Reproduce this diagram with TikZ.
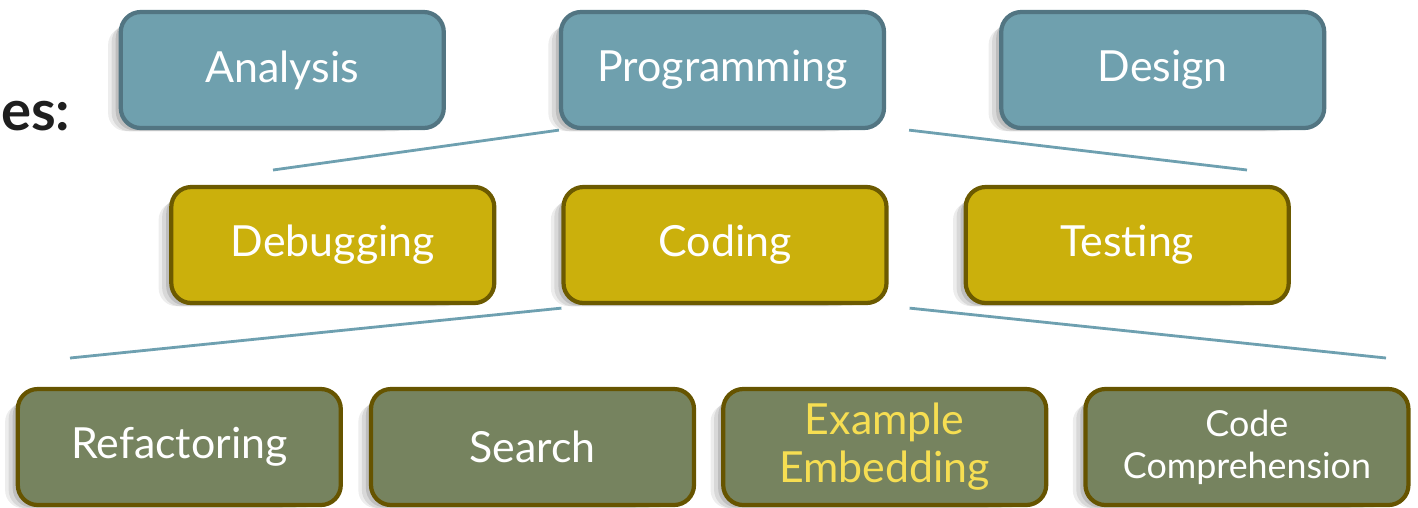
\documentclass[tikz,border=0pt]{standalone}
\usepackage{fontspec}
\setmainfont{Lato}
\usetikzlibrary{positioning,shadows}
\definecolor{tealfill}{RGB}{111,160,174}
\definecolor{tealline}{RGB}{82,117,130}
\definecolor{goldfill}{RGB}{203,176,12}
\definecolor{goldline}{RGB}{108,90,0}
\definecolor{olivefill}{RGB}{118,131,95}
\definecolor{oliveline}{RGB}{102,84,0}
\definecolor{linkline}{RGB}{110,160,176}
\definecolor{hilite}{RGB}{246,222,82}

\begin{document}
\begin{tikzpicture}[node distance=1.13cm,
  box/.style={rectangle,rounded corners=0.2cm,minimum width=3.23cm,minimum height=1.16cm,line width=1.2pt,text=white,align=center,font=\fontsize{12.2}{13.6}\selectfont,
    drop shadow={shadow scale=0.96,shadow xshift=-0.12cm,shadow yshift=-0.05cm,opacity=0.12,fill=black},
    drop shadow={shadow scale=0.93,shadow xshift=-0.22cm,shadow yshift=-0.08cm,opacity=0.09,fill=black},
    drop shadow={shadow scale=0.90,shadow xshift=-0.32cm,shadow yshift=-0.10cm,opacity=0.07,fill=black}},
  top node/.style={box,fill=tealfill,draw=tealline},
  mid node/.style={box,fill=goldfill,draw=goldline},
  low node/.style={box,fill=olivefill,draw=oliveline},
  link/.style={draw=linkline,line width=0.8pt}]
  \useasboundingbox (0,0) rectangle (14.18,-5.07);
  \node[anchor=base east,inner sep=0pt,text=black!88,font=\fontsize{16}{19}\selectfont\bfseries] (0) at (0.71,-1.30) {es:};
  % top row
  \node[top node] (2) at (7.225,-0.70) {Programming};
  \node[top node] (1) [left=of 2] {Analysis};
  \node[top node] (3) [right=of 2] {Design};
  % middle row
  \node[mid node] (5) at (7.25,-2.45) {Coding};
  \node[mid node] (4) [left=0.65cm of 5] {Debugging};
  \node[mid node] (6) [right=0.75cm of 5] {Testing};
  % bottom row
  \node[low node] (8) at (5.325,-4.47) {Search};
  \node[low node] (7) [left=0.26cm of 8] {Refactoring};
  \node[low node,text=hilite] (9) [right=0.25cm of 8] {Example\\Embedding};
  \node[low node,font=\fontsize{10.2}{12}\selectfont] (10) [right=0.35cm of 9] {Code\\Comprehension};
  % lines
  \coordinate (a) at (2.73,-1.70);
  \coordinate (b) at (12.47,-1.70);
  \coordinate (c) at (0.70,-3.58);
  \coordinate (d) at (13.86,-3.58);
  \path[link] (2.south west) -- (a);
  \path[link] ([xshift=0.23cm]2.south east) -- (b);
  \path[link] ([yshift=-0.03cm]5.south west) -- (c);
  \path[link] ([xshift=0.21cm,yshift=-0.03cm]5.south east) -- (d);
\end{tikzpicture}
\end{document}
